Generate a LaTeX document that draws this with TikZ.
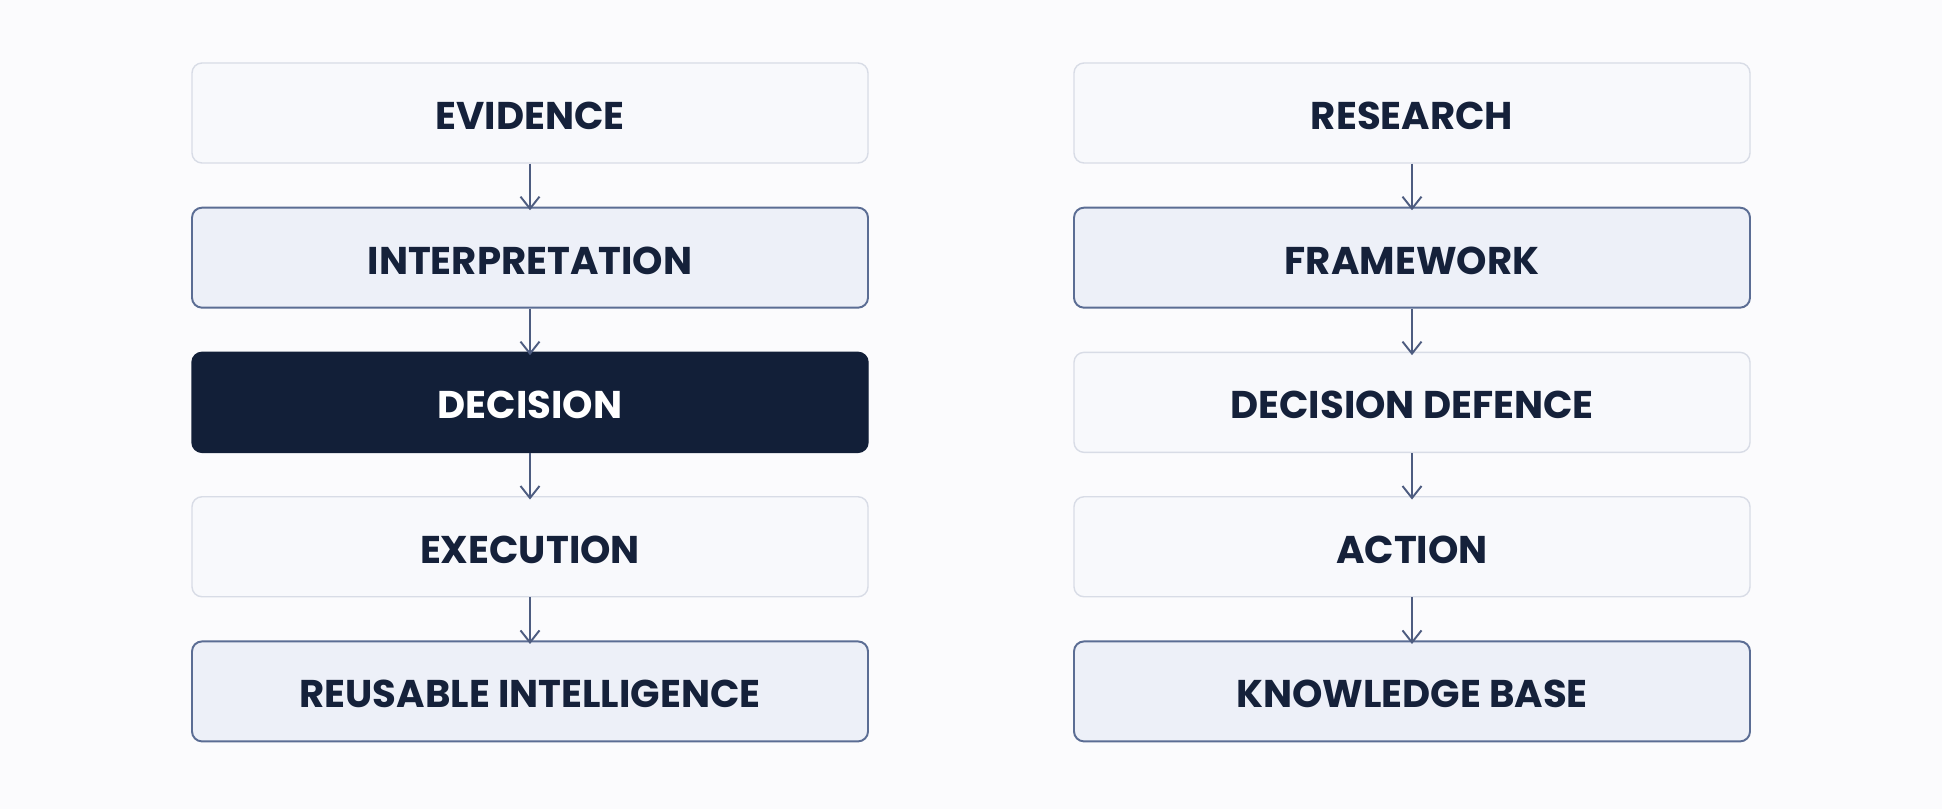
\documentclass[tikz,border=0pt]{standalone}
\usepackage{fontspec}
\setmainfont{Poppins}
\usetikzlibrary{positioning,arrows.meta}
\definecolor{ink}{HTML}{15213A}
\definecolor{paper}{HTML}{FBFBFD}
\definecolor{lightfill}{HTML}{F8F9FC}
\definecolor{lightline}{HTML}{D8DCE6}
\definecolor{midfill}{HTML}{EDF0F8}
\definecolor{midline}{HTML}{5B6D94}
\definecolor{darkbox}{HTML}{121F38}
\definecolor{flowcol}{HTML}{4D5C80}
\tikzset{
  stage/.style={draw=lightline, fill=lightfill, rounded corners=0.2cm,
    line width=0.8pt, minimum width=13.52cm, minimum height=2cm,
    text height=0.66cm, text depth=0pt,
    font=\bfseries\fontsize{22}{26}\selectfont, text=ink},
  keystage/.style={stage, draw=midline, fill=midfill, line width=1.1pt},
  darkstage/.style={stage, draw=darkbox, fill=darkbox, text=white},
  flow/.style={draw=flowcol, line width=1.1pt,
    -{Straight Barb[length=0.24cm, width=0.38cm]}}
}
\begin{document}
\begin{tikzpicture}[node distance=0.86cm]
\fill[paper] (0,0) rectangle (38.84,16.18);
\useasboundingbox (0,0) rectangle (38.84,16.18);
% left column
\node[stage] (evidence) at (10.6,13.92) {EVIDENCE};
\node[keystage, below=of evidence] (interpretation) {INTERPRETATION};
\node[darkstage, below=of interpretation] (decision) {DECISION};
\node[stage, below=of decision] (execution) {EXECUTION};
\node[keystage, below=of execution] (reusable) {REUSABLE INTELLIGENCE};
% right column
\node[stage] (research) at (28.24,13.92) {RESEARCH};
\node[keystage, below=of research] (framework) {FRAMEWORK};
\node[stage, below=of framework] (defence) {DECISION DEFENCE};
\node[stage, below=of defence] (action) {ACTION};
\node[keystage, below=of action] (knowledge) {KNOWLEDGE BASE};
\foreach \a/\b in {evidence/interpretation, interpretation/decision,
  decision/execution, execution/reusable, research/framework,
  framework/defence, defence/action, action/knowledge}{
\draw[flow] (\a.south) -- ([yshift=-2pt]\b.north);
}
\end{tikzpicture}
\end{document}
